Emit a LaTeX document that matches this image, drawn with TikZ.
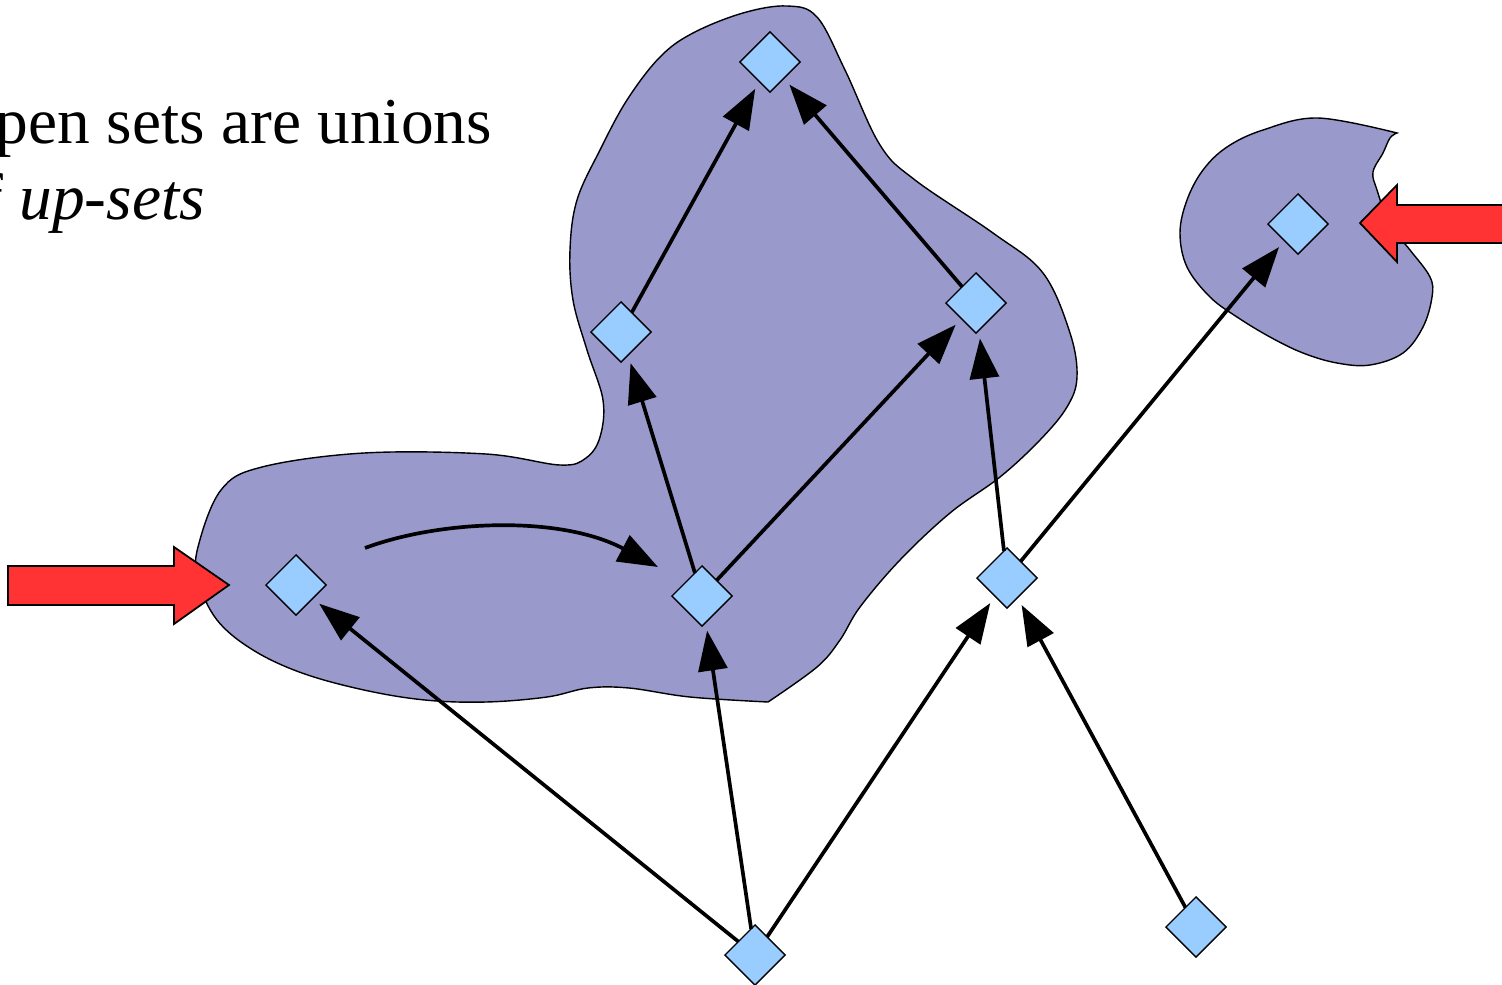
\documentclass[tikz,border=0pt]{standalone}
\usepackage{fontspec}
\setmainfont{Liberation Serif}
\usetikzlibrary{shapes.geometric, arrows.meta}

\definecolor{setfill}{HTML}{9999CC}
\definecolor{ptfill}{HTML}{99CCFF}
\definecolor{pushred}{HTML}{FF3333}

\begin{document}
\begin{tikzpicture}[x=0.01cm, y=-0.01cm,
		pt/.style={diamond, draw=black, line width=0.4pt, fill=ptfill, minimum width=0.6cm, minimum height=0.6cm, inner sep=0pt, outer sep=0pt},
		up/.style={-{Triangle[length=0.4cm, width=0.29cm]}, line width=1.05pt, shorten >=0.085cm},
		blob/.style={fill=setfill, draw=black, line width=0.4pt},
		push/.style={fill=pushred, draw=black, line width=0.5pt}]
		
		\useasboundingbox (0,0) rectangle (1502,984);
		
		% --- Open sets ---
		% big set (left lobe + upper part)
		\draw[blob] plot[smooth, tension=0.6] coordinates {
			(768,702) (817,667) (840,640) (860,607) (900,560) (950,513) (1000,477)
			(1040,440) (1067,407) (1077,377) (1070,333) (1043,273) (993,233) (915,180)
			(880,145) (845,70) (817,17) (787,6) (743,13) (693,33) (660,57) (627,100)
			(600,150) (577,200) (570,250) (573,300) (587,350) (603,400) (600,437)
			(586,458) (560,465) (486,454) (364,453) (262,467) (221,490) (198,547)
			(198,580) (217,620) (253,650) (302,673) (364,690) (425,700) (486,702)
			(547,697) (588,688) (629,688) (690,697) (768,702)} -- cycle;
		
		% small set on the right
		\draw[blob] plot[smooth, tension=0.6] coordinates {
			(1397,133) (1390,138) (1383,153) (1373,172) (1377,190) (1390,225)
			(1410,250) (1430,277) (1432,297) (1423,327) (1403,353) (1370,365)
			(1337,363) (1303,353) (1270,337) (1237,317) (1210,297) (1187,267)
			(1180,233) (1187,200) (1203,170) (1227,147) (1263,130) (1318,118)
			(1397,133)} -- cycle;
		
		% --- Block arrows ---
		\draw[push] (8,566) -- (174,566) -- (174,547) -- (229,585) -- (174,624) -- (174,605) -- (8,605) -- cycle;
		\draw[push] (1510,205) -- (1397,205) -- (1397,185) -- (1360,223) -- (1397,262) -- (1397,243) -- (1510,243) -- cycle;
		
		% --- Caption ---
		\node[anchor=base west, align=left, inner sep=0pt, font=\fontsize{18.6}{21.6}\selectfont] (caption) at (-52,219)
			{Open sets are unions\\of \textit{up-sets}};
		
		% --- Points ---
		\node[pt] (top) at (770,62) {};
		\node[pt] (midl) at (621,332) {};
		\node[pt] (midr) at (976,303) {};
		\node[pt] (ctr) at (702,596) {};
		\node[pt] (west) at (296,585) {};
		\node[pt] (east) at (1007,578) {};
		\node[pt] (bot) at (755,955) {};
		\node[pt] (botr) at (1196,927) {};
		\node[pt] (lone) at (1298,224) {};
		
		% --- Order ---
		\draw[up] (midl) -- (top);
		\draw[up] (midr) -- (top);
		\draw[up] (ctr) -- (midl);
		\draw[up] (ctr) -- (midr);
		\draw[up] (east) -- (midr);
		\draw[up] (east) -- (lone);
		\draw[up] (bot) -- (west);
		\draw[up] (bot) -- (ctr);
		\draw[up] (bot) -- (east);
		\draw[up] (botr) -- (east);
		
		% moving along the set
		\coordinate (swoopa) at (365,548);
		\coordinate (swoopb) at (658,567);
		\draw[up, shorten >=0pt] (swoopa) .. controls (440,520) and (560,515) .. (swoopb);
		
	\end{tikzpicture}
\end{document}
